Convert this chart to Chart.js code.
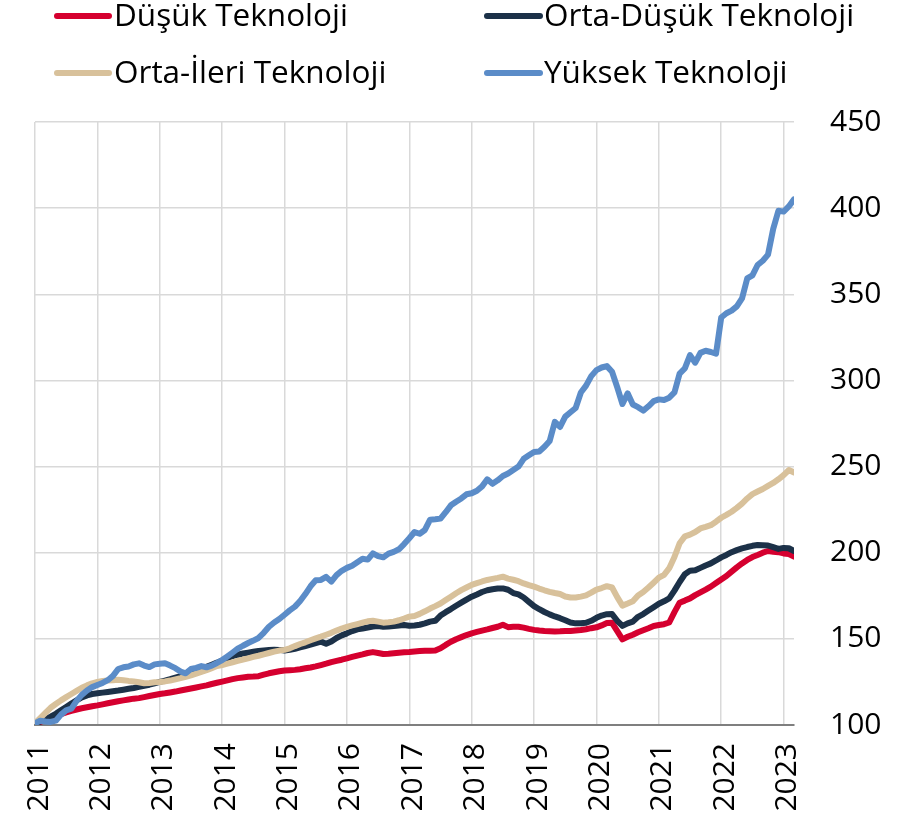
<!DOCTYPE html>
<html>
<head>
<meta charset="utf-8">
<script src="https://cdn.jsdelivr.net/npm/chart.js@4/dist/chart.umd.min.js"></script>
<style>
html,body{margin:0;padding:0;background:#fff;}
#wrap{position:relative;width:922px;height:829px;}
</style>
</head>
<body>
<div id="wrap"><canvas id="c" width="922" height="829"></canvas></div>
<script>
// ---- data ----
const seriesNames = ['Düşük Teknoloji', 'Orta-Düşük Teknoloji', 'Orta-İleri Teknoloji', 'Yüksek Teknoloji'];
const tickYears = ['2011','2012','2013','2014','2015','2016','2017','2018','2019','2020','2021','2022','2023'];
const yTicks = [100, 150, 200, 250, 300, 350, 400, 450];

// monthly categories Jan 2011 .. Mar 2023
const categories = [];
for (const y of tickYears) for (let m = 1; m <= 12; m++) categories.push(y + '-' + String(m).padStart(2, '0'));
categories.length = 147;

const dusuk = [
  101.0,101.8,102.8,104.0,105.2,106.3,107.3,108.2,109.0,109.7,110.3,110.9,
  111.4,112.0,112.6,113.2,113.8,114.3,114.8,115.3,115.6,116.2,116.8,117.4,
  118.0,118.4,118.9,119.4,120.0,120.6,121.2,121.8,122.4,123.0,123.8,124.5,
  125.2,125.9,126.6,127.2,127.6,128.0,128.1,128.3,129.2,130.0,130.6,131.2,
  131.6,131.8,132.0,132.4,132.9,133.4,134.0,134.8,135.6,136.5,137.2,137.9,
  138.7,139.5,140.3,141.0,141.8,142.3,141.8,141.2,141.4,141.7,142.0,142.2,
  142.4,142.7,142.9,143.1,143.1,143.2,144.5,146.5,148.3,149.8,151.0,152.2,
  153.2,154.0,154.8,155.5,156.3,157.0,158.2,156.8,157.0,157.0,156.5,155.8,
  155.2,154.8,154.5,154.4,154.3,154.4,154.6,154.5,154.8,155.1,155.6,156.2,
  156.7,157.8,159.2,159.3,154.5,149.7,151.2,152.4,153.8,155.0,156.2,157.5,
  158.0,158.5,159.5,165.5,171.0,172.2,173.5,175.4,177.0,178.6,180.3,182.4,
  184.5,186.5,189.0,191.5,193.8,195.8,197.5,198.7,200.0,201.0,200.6,200.3,
  199.6,199.2,197.7
];
const ortaDusuk = [
  101.0,102.0,103.3,104.8,106.5,108.5,110.5,112.5,114.3,116.0,117.2,118.0,
  118.4,118.8,119.2,119.6,120.0,120.5,121.0,121.5,122.1,122.8,123.4,124.2,
  125.0,125.8,126.6,127.5,128.4,129.4,130.4,131.4,132.6,133.8,135.0,136.2,
  137.5,138.8,140.0,140.8,141.5,142.0,142.5,143.0,143.3,143.5,143.7,143.6,
  143.2,143.6,144.2,145.0,145.8,146.6,147.5,148.4,147.2,148.5,150.5,152.0,
  153.2,154.5,155.5,156.0,156.6,157.2,157.5,157.0,157.2,157.5,157.8,158.0,
  157.6,157.8,158.2,159.0,160.0,160.5,163.5,165.5,167.3,169.2,171.0,172.8,
  174.5,175.8,177.2,178.2,178.8,179.2,179.3,178.5,176.6,175.8,174.0,171.5,
  169.0,167.2,165.6,164.2,163.0,162.0,160.8,159.5,159.0,159.0,159.3,160.5,
  162.2,163.5,164.3,164.4,160.5,157.5,159.0,160.0,162.8,164.4,166.4,168.4,
  170.4,171.8,173.5,178.0,183.0,187.5,189.6,189.8,191.2,192.6,193.8,195.5,
  197.3,198.7,200.3,201.5,202.5,203.3,204.0,204.5,204.4,204.2,203.2,202.2,
  202.8,202.6,201.0
];
const ortaIleri = [
  101.0,104.0,107.0,110.0,112.2,114.3,116.2,118.0,119.8,121.6,123.0,124.2,
  125.0,125.5,125.8,126.0,126.2,126.0,125.6,125.3,124.8,124.2,124.4,124.8,
  125.0,125.3,125.8,126.5,127.2,128.0,128.8,129.8,130.8,131.8,133.0,134.2,
  134.8,135.6,136.4,137.2,138.0,138.7,139.5,140.2,141.0,141.8,142.6,143.2,
  143.6,144.5,145.8,147.0,148.0,149.2,150.3,151.3,152.4,153.5,154.8,156.0,
  157.0,157.8,158.6,159.4,160.2,160.5,160.0,159.4,159.6,160.0,160.8,161.8,
  162.9,163.3,164.5,166.0,167.6,169.0,170.5,172.5,174.5,176.5,178.3,179.8,
  181.3,182.3,183.3,184.2,184.8,185.4,186.1,185.0,184.3,183.5,182.2,181.2,
  180.3,179.2,178.2,177.3,176.6,176.0,174.6,174.0,174.0,174.5,175.2,176.8,
  178.6,179.5,180.6,179.8,174.2,169.3,170.5,171.8,175.2,177.2,179.8,182.6,
  185.5,187.2,191.0,197.5,205.5,209.5,210.5,212.0,214.1,215.0,216.0,218.0,
  220.3,222.0,223.8,226.0,228.5,231.5,234.0,235.5,237.0,238.8,240.5,242.6,
  245.0,248.0,246.6
];
const yuksek = [
  101.0,102.5,102.0,101.8,102.5,106.0,108.5,109.5,114.0,117.5,120.0,122.0,
  123.2,124.4,126.0,128.5,132.5,133.5,134.0,135.2,135.8,134.5,133.6,135.2,
  135.6,135.8,134.5,133.0,131.0,130.0,132.5,133.2,134.2,133.5,134.5,136.0,
  137.7,139.8,142.0,144.3,146.0,147.6,149.0,150.5,153.5,157.0,159.5,161.5,
  164.0,166.5,168.7,172.0,176.0,180.5,184.0,184.2,186.0,183.2,187.0,189.5,
  191.2,192.5,194.5,196.5,196.0,199.6,198.0,197.3,199.5,200.5,202.0,205.0,
  208.4,212.0,211.0,213.2,219.2,219.4,219.8,223.5,227.5,229.6,231.5,233.9,
  234.5,236.0,238.5,242.6,240.0,242.0,244.5,246.0,248.0,250.0,254.5,256.5,
  258.5,258.8,261.5,264.8,276.0,273.0,279.0,281.5,284.0,293.0,297.0,302.5,
  306.0,307.5,308.3,305.0,296.0,286.3,292.5,286.0,284.5,282.5,285.0,288.0,
  289.0,288.6,290.0,293.0,304.0,307.0,314.7,310.3,316.0,317.2,316.5,315.5,
  336.5,339.0,340.5,343.0,347.6,359.2,361.0,367.0,369.5,373.0,388.0,398.5,
  398.0,401.0,405.1
];

const seriesValues = [dusuk, ortaDusuk, ortaIleri, yuksek];
const seriesColors = ['#D5002F', '#1C3148', '#D8C19B', '#5B8CC8'];

// ---- chart ----
const FONT = "'Open Sans', sans-serif";

const legendPlugin = {
  id: 'gridLegend',
  afterDraw(chart) {
    const ctx = chart.ctx;
    const cols = [{x0: 57, x1: 109, tx: 114}, {x0: 487, x1: 540, tx: 544}];
    const rows = [{ly: 16, by: 26}, {ly: 73, by: 83}];
    ctx.save();
    chart.data.datasets.forEach((ds, i) => {
      const c = cols[i % 2], r = rows[Math.floor(i / 2)];
      ctx.strokeStyle = ds.borderColor;
      ctx.lineWidth = 6;
      ctx.lineCap = 'round';
      ctx.beginPath();
      ctx.moveTo(c.x0, r.ly);
      ctx.lineTo(c.x1, r.ly);
      ctx.stroke();
      ctx.fillStyle = '#000';
      ctx.font = '31.5px ' + FONT;
      ctx.textBaseline = 'alphabetic';
      ctx.textAlign = 'left';
      ctx.fillText(ds.label, c.tx, r.by);
    });
    ctx.restore();
  }
};

const datasets = seriesNames.map((name, i) => ({
  label: name,
  data: seriesValues[i].map((v, k) => ({x: k, y: v})),
  borderColor: seriesColors[i],
  backgroundColor: seriesColors[i],
  borderWidth: 6,
  pointRadius: 0,
  tension: 0,
  borderJoinStyle: 'round',
  borderCapStyle: 'round',
  order: 3 - i
}));

function build() {
  new Chart(document.getElementById('c'), {
    type: 'line',
    data: {datasets},
    options: {
      responsive: false,
      animation: false,
      devicePixelRatio: 1,
      layout: {padding: {top: 122, left: 35, right: 0, bottom: 0}},
      plugins: {legend: {display: false}, tooltip: {enabled: false}},
      scales: {
        x: {
          type: 'linear',
          min: 0,
          max: categories.length - 1,
          grid: {color: '#D9D9D9', lineWidth: 1.5, drawTicks: false},
          border: {display: true, color: '#7F7F7F', width: 2},
          ticks: {
            stepSize: 12,
            includeBounds: false,
            autoSkip: false,
            minRotation: 90,
            maxRotation: 90,
            padding: 18,
            labelOffset: 4,
            color: '#000',
            font: {family: FONT, size: 30},
            callback: (v) => (v % 12 === 0 ? tickYears[v / 12] : '')
          },
          afterFit: (s) => { s.height = 104; }
        },
        y: {
          position: 'right',
          min: yTicks[0],
          max: yTicks[yTicks.length - 1],
          grid: {color: '#D9D9D9', lineWidth: 1.5, drawTicks: false},
          border: {display: false},
          ticks: {
            stepSize: 50,
            padding: 36,
            color: '#000',
            font: {family: FONT, size: 30}
          },
          afterFit: (s) => { s.width = 128; }
        }
      }
    },
    plugins: [legendPlugin]
  });
}

if (document.fonts && document.fonts.load) {
  document.fonts.load('30px "Open Sans"').then(build, build);
} else {
  build();
}
</script>
</body>
</html>
